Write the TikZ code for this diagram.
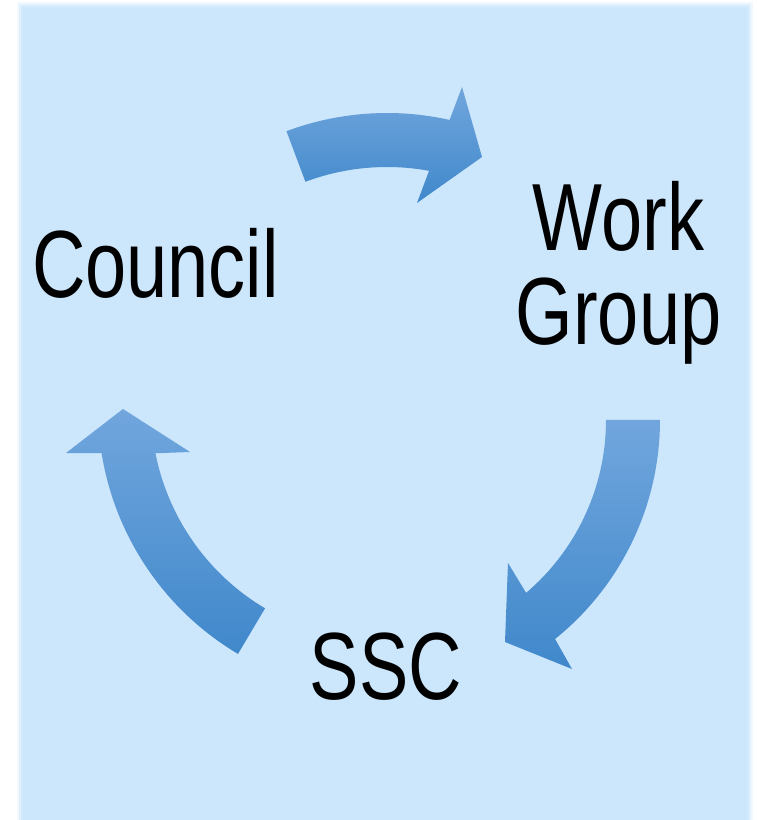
\documentclass[tikz,border=0pt]{standalone}
\usepackage{fontspec}
\setmainfont{Liberation Sans}
\usetikzlibrary{calc}
\definecolor{bgblue}{RGB}{204,230,252}
\definecolor{arrowtop}{RGB}{113,166,221}
\definecolor{arrowbot}{RGB}{64,136,203}
\tikzset{
  arrowfill/.style={top color=arrowtop, bottom color=arrowbot, draw=none},
  label text/.style={inner sep=0pt, text=black, font=\fontsize{74}{94}\selectfont, align=center},
}
\newcommand{\tallbox}[1]{\scalebox{1}[1.29]{#1}}
\begin{document}
\begin{tikzpicture}[x=1pt,y=1pt]
\useasboundingbox (0,0) rectangle (757,820);
% soft-edged background panel
\fill[bgblue, opacity=0.25] (17,0) rectangle (753,818);
\fill[bgblue, opacity=0.45] (19,0) rectangle (751,816);
\fill[bgblue, opacity=0.7] (21,0) rectangle (749,814);
\fill[bgblue] (23,0) rectangle (747,812);
% arc centres
\coordinate (ct) at (387,420);
\coordinate (cr) at (379,400);
\coordinate (cl) at (384,412);
% top arrow (Council -> Work Group)
\path[arrowfill] ($(ct)+(110.5:287)$) arc[start angle=110.5,end angle=77.4,radius=287]
  -- (462,733) -- (482,663) -- (417,617)
  -- ($(ct)+(79.6:233)$) arc[start angle=79.6,end angle=110.5,radius=233] -- cycle;
% right arrow (Work Group -> SSC)
\path[arrowfill] ($(cr)+(0:281)$) arc[start angle=0,end angle=-51.2,radius=281]
  -- (572,151) -- (505,178) -- (508,257)
  -- ($(cr)+(-49.6:227)$) arc[start angle=-49.6,end angle=0,radius=227] -- cycle;
% left arrow (SSC -> Council)
\path[arrowfill] ($(cl)+(239.3:286)$) arc[start angle=239.3,end angle=189.1,radius=286]
  -- (66,367) -- (123,411) -- (190,368)
  -- ($(cl)+(191.2:233)$) arc[start angle=191.2,end angle=239.3,radius=233] -- cycle;
% labels
\node[label text, anchor=base] (council) at (155.5,522) {\tallbox{Council}};
\node[label text, anchor=north] (work) at (618.5,639) {\tallbox{Work}\\\tallbox{Group}};
\node[label text, anchor=base] (ssc) at (386,120) {\tallbox{SSC}};
\end{tikzpicture}
\end{document}
